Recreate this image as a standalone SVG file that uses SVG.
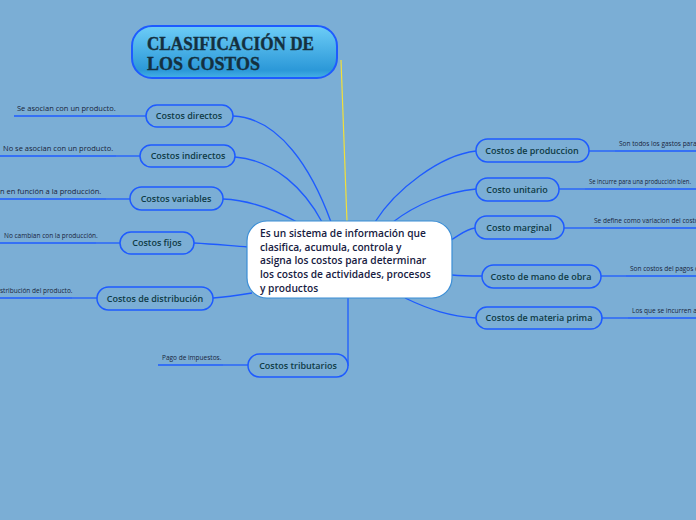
<svg xmlns="http://www.w3.org/2000/svg" width="696" height="520" viewBox="0 0 696 520">
<defs>
<linearGradient id="tg" x1="0" y1="0" x2="0" y2="1">
<stop offset="0" stop-color="#6DCDF7"/>
<stop offset="0.85" stop-color="#2B98D8"/>
<stop offset="1" stop-color="#45B0E6"/>
</linearGradient>
</defs>
<style>
.node rect{fill:#7BAED5;stroke:#1E5BFF;stroke-width:1.5}
.node text{font-family:"Open Sans","Noto Sans",sans-serif;font-weight:600;font-size:9px;fill:#0E3B45;text-anchor:middle}
.leaf{font-family:"Open Sans","Noto Sans",sans-serif;font-size:6.5px;fill:#18243A}
.con path{fill:none;stroke:#1E5BFF;stroke-width:1.3}
.thick{stroke:#1F4FE6;stroke-width:2;fill:none}
.thin{stroke:#5A8FEA;stroke-width:1.2;fill:none}
.ttl{font-family:"Liberation Serif",serif;font-weight:bold;font-size:19px;fill:#14303F;stroke:#14303F;stroke-width:0.4}
</style>
<rect width="696" height="520" fill="#7BAED5"/>
<g class="con">
<path d="M341,60 L347,222" style="stroke:#F2E03A;stroke-width:1.2"/>
<path d="M233,116 C280,118 312,170 331,222"/>
<path d="M235,157 C275,160 305,190 322,222"/>
<path d="M223,199 C250,200 275,210 297,222"/>
<path d="M194,243 C215,244 232,246 248,247"/>
<path d="M213,298 C228,297 240,295 252,293"/>
<path d="M348,298 L348,366"/>
<path d="M476,151 C440,155 395,190 375,222"/>
<path d="M476,189 C445,192 415,205 393,222"/>
<path d="M451,240 C460,235 466,229 475,228"/>
<path d="M452,275 C462,276 470,276 482,276"/>
<path d="M405,298 C430,310 450,316 476,318"/>
<path class="thick" d="M14,116 H120"/><path class="thin" d="M120,116 H146"/>
<path class="thick" d="M0,156 H116"/><path class="thin" d="M116,156 H140"/>
<path class="thick" d="M0,199 H106"/><path class="thin" d="M106,199 H130"/>
<path class="thick" d="M0,243 H96"/><path class="thin" d="M96,243 H120"/>
<path class="thick" d="M0,298 H72"/><path class="thin" d="M72,298 H97"/>
<path class="thick" d="M158,365 H223"/><path class="thin" d="M223,365 H248"/>
<path class="thin" d="M589,151 H615"/><path class="thick" d="M615,151 H696"/>
<path class="thin" d="M559,189 H585"/><path class="thick" d="M585,189 H696"/>
<path class="thin" d="M564,228 H590"/><path class="thick" d="M590,228 H696"/>
<path class="thin" d="M601,276 H626"/><path class="thick" d="M626,276 H696"/>
<path class="thin" d="M602,318 H628"/><path class="thick" d="M628,318 H696"/>
</g>
<g id="title">
<rect x="132" y="26" width="205" height="52" rx="20" fill="url(#tg)" stroke="#1E5BFF" stroke-width="2"/>
<text class="ttl" x="147" y="50" textLength="167" lengthAdjust="spacingAndGlyphs">CLASIFICACIÓN DE</text>
<text class="ttl" x="147" y="70" textLength="113" lengthAdjust="spacingAndGlyphs">LOS COSTOS</text>
</g>
<g id="center">
<rect x="247" y="221" width="205" height="77" rx="20" fill="#FFFFFF" stroke="#3B8ED6" stroke-width="1.2"/>
<g font-family="Open Sans,Noto Sans,sans-serif" font-weight="600" font-size="10.2" fill="#172042">
<text x="260" y="237">Es un sistema de información que</text>
<text x="260" y="251">clasifica, acumula, controla y</text>
<text x="260" y="264">asigna los costos para determinar</text>
<text x="260" y="278">los costos de actividades, procesos</text>
<text x="260" y="292">y productos</text>
</g>
</g>
<g id="n-directos" class="node"><rect x="146" y="105" width="87" height="22" rx="11"/><text x="189" y="119">Costos directos</text></g>
<g id="n-indirectos" class="node"><rect x="140" y="145" width="95" height="22" rx="11"/><text x="188" y="159">Costos indirectos</text></g>
<g id="n-variables" class="node"><rect x="130" y="187" width="93" height="23" rx="11.5"/><text x="176" y="202">Costos variables</text></g>
<g id="n-fijos" class="node"><rect x="120" y="232" width="74" height="22" rx="11"/><text x="157" y="246">Costos fijos</text></g>
<g id="n-distribucion" class="node"><rect x="97" y="287" width="116" height="23" rx="11.5"/><text x="155" y="302">Costos de distribución</text></g>
<g id="n-tributarios" class="node"><rect x="248" y="354" width="100" height="23" rx="11.5"/><text x="298" y="369">Costos tributarios</text></g>
<g id="n-produccion" class="node"><rect x="476" y="139" width="113" height="23" rx="11.5"/><text x="532" y="154">Costos de produccion</text></g>
<g id="n-unitario" class="node"><rect x="476" y="178" width="83" height="23" rx="11.5"/><text x="517" y="193">Costo unitario</text></g>
<g id="n-marginal" class="node"><rect x="475" y="216" width="89" height="23" rx="11.5"/><text x="519" y="231">Costo marginal</text></g>
<g id="n-manoobra" class="node"><rect x="482" y="265" width="119" height="23" rx="11.5"/><text x="541" y="280">Costo de mano de obra</text></g>
<g id="n-materia" class="node"><rect x="476" y="307" width="126" height="22" rx="11"/><text x="539" y="321">Costos de materia prima</text></g>
<g id="leaves">
<text class="leaf" x="17" y="111" style="font-size:7.5px">Se asocian con un producto.</text>
<text class="leaf" x="3" y="151" style="font-size:7.5px">No se asocian con un producto.</text>
<text class="leaf" x="0" y="194" style="font-size:7.5px">n  en función a la producción.</text>
<text class="leaf" x="4" y="238">No cambian con la producción.</text>
<text class="leaf" x="0" y="293">stribución del producto.</text>
<text class="leaf" x="162" y="360">Pago de impuestos.</text>
<text class="leaf" x="619" y="146">Son todos los gastos para la</text>
<text class="leaf" x="589" y="184" textLength="102" lengthAdjust="spacingAndGlyphs">Se incurre para una producción bien.</text>
<text class="leaf" x="594" y="223">Se define como variacion del costo total</text>
<text class="leaf" x="630" y="271">Son costos del pagos de</text>
<text class="leaf" x="632" y="313">Los que se incurren al a</text>
</g>
</svg>
